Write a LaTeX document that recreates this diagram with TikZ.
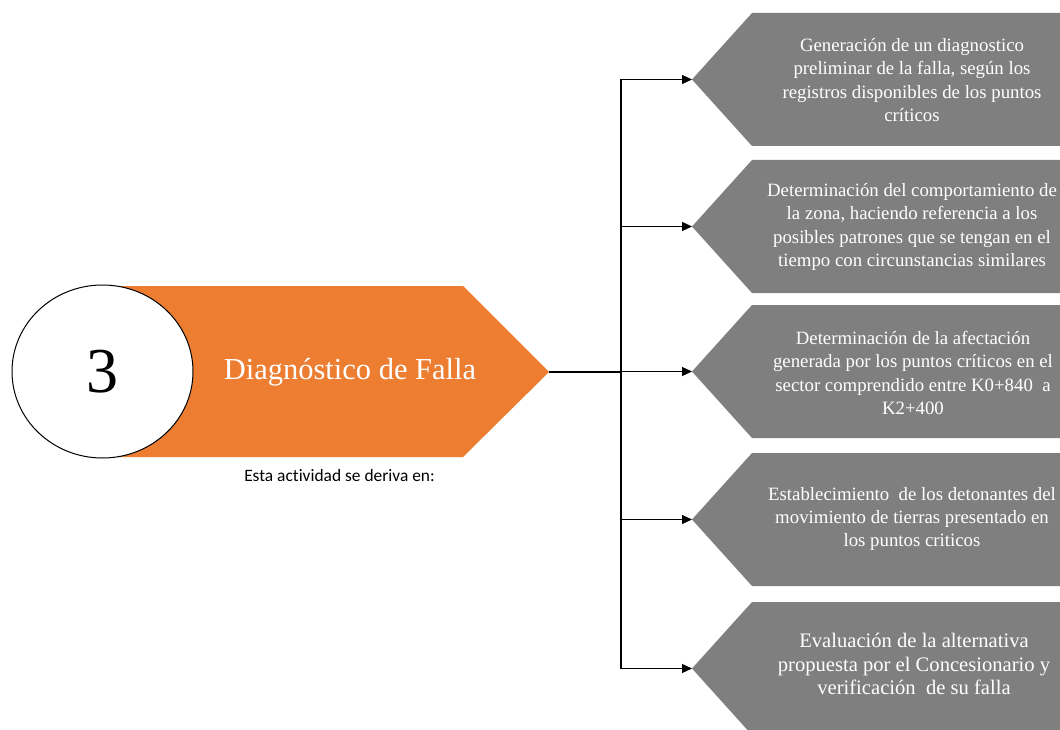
\documentclass[tikz,border=0pt]{standalone}
\usepackage{fontspec}
\setmainfont{Liberation Serif}
\newfontfamily\captionfont[Ligatures=NoCommon]{Carlito}
\usetikzlibrary{arrows.meta,shapes.geometric}

\definecolor{stepOrange}{HTML}{ED7D31}
\definecolor{stepGray}{HTML}{7F7F7F}

\tikzset{
  wire/.style={draw=black, line width=1.1pt},
  tipwire/.style={wire, -{Triangle[length=10pt,width=9pt]}},
  outtext/.style={text=white, align=center, inner sep=0pt,
    font=\fontsize{18.8}{23.3}\selectfont},
  bigouttext/.style={text=white, align=center, inner sep=0pt,
    font=\fontsize{20.6}{23.6}\selectfont},
}

% left-pointing gray banner: #1 = vertical middle
\newcommand{\graybanner}[1]{%
  \fill[stepGray] (752,#1-66.5) -- (1060,#1-66.5) -- (1060,#1+66.5)
    -- (752,#1+66.5) -- (692,#1) -- cycle;}

\begin{document}
\begin{tikzpicture}[x=1pt, y=-1pt]
  \useasboundingbox (0,0) rectangle (1060,730);

  % orange step banner
  \fill[stepOrange] (102,286) -- (463,286) -- (549,372) -- (463,457) -- (102,457) -- cycle;
  \coordinate (tip) at (549,372);
  \node[text=white, inner sep=0pt, font=\fontsize{30.5}{34}\selectfont]
    (title) at (350,372) {Diagnóstico de Falla};

  % numbered disc
  \node[draw=black, line width=1pt, fill=white, ellipse, minimum width=181pt,
        minimum height=173pt, inner sep=0pt, font=\fontsize{64}{70}\selectfont]
    (num) at (102.5,371.5) {3};

  \node[inner sep=0pt, anchor=base, font=\captionfont\fontsize{17.4}{20}\selectfont]
    (cap) at (339.5,481) {Esta actividad se deriva en:};

  % outcome banners
  \graybanner{79.5}
  \graybanner{226.5}
  \graybanner{371.5}
  \graybanner{519.5}
  \graybanner{668.5}
  \coordinate (t1) at (692,79.5);
  \coordinate (t2) at (692,226.5);
  \coordinate (t3) at (692,371.5);
  \coordinate (t4) at (692,519.5);
  \coordinate (t5) at (692,668.5);

  \node[outtext] (o1) at (912,80) {Generación de un diagnostico\\
    preliminar de la falla, según los\\
    registros disponibles de los puntos\\
    críticos};
  \node[outtext] (o2) at (912,227) {Determinación del comportamiento de\\
    la zona, haciendo referencia a los\\
    posibles patrones que se tengan en el\\
    tiempo con circunstancias similares};
  \node[outtext] (o3) at (913,373) {Determinación de la afectación\\
    generada por los puntos críticos en el\\
    sector comprendido entre K0+840\ \ a\\
    K2+400};
  \node[outtext] (o4) at (912,519) {Establecimiento\ \ de los detonantes del\\
    movimiento de tierras presentado en\\
    los puntos criticos};
  \node[bigouttext] (o5) at (914,664) {Evaluación de la alternativa\\
    propuesta por el Concesionario y\\
    verificación\ \ de su falla};

  % connectors
  \coordinate (junction) at (621,372);
  \draw[wire] (tip) -- (junction);
  \draw[wire] (junction |- t1) -- (junction |- t5);
  \foreach \k in {1,...,5}{
    \draw[tipwire] (junction |- t\k) -- (t\k);
  }
\end{tikzpicture}
\end{document}
